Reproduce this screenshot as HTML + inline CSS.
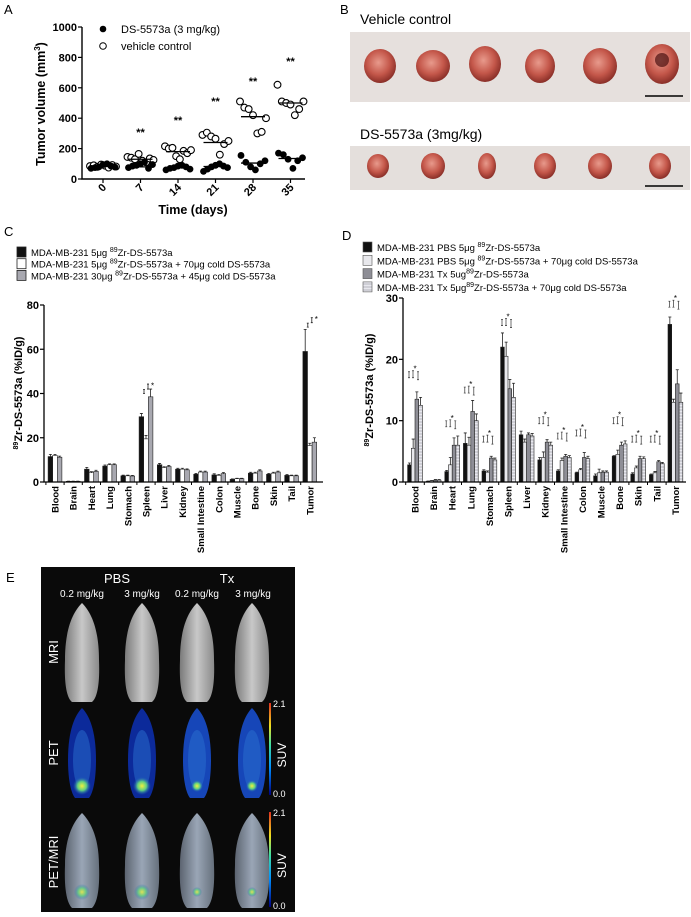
<!DOCTYPE html>
<html><head><meta charset="utf-8"><style>
body{margin:0;background:#fff;}
svg{display:block;font-family:"Liberation Sans",Arial,sans-serif;}
</style></head><body>
<svg id="fig" width="691" height="917" viewBox="0 0 691 917">
<defs>
<radialGradient id="tum" cx="45%" cy="40%" r="60%"><stop offset="0" stop-color="#e89a8c"/><stop offset="0.6" stop-color="#c4574a"/><stop offset="1" stop-color="#8a2f28"/></radialGradient>
<linearGradient id="mouse" x1="0" x2="1"><stop offset="0" stop-color="#7a7a7a"/><stop offset="0.5" stop-color="#c8c8c8"/><stop offset="1" stop-color="#8a8a8a"/></linearGradient>
<linearGradient id="fused" x1="0" x2="1"><stop offset="0" stop-color="#5c6470"/><stop offset="0.5" stop-color="#9aa6b6"/><stop offset="1" stop-color="#66707c"/></linearGradient>
<radialGradient id="hot" cx="50%" cy="50%" r="50%"><stop offset="0" stop-color="#f0f040"/><stop offset="0.5" stop-color="#60d080"/><stop offset="1" stop-color="#2060c0" stop-opacity="0"/></radialGradient>
<linearGradient id="cbar" x1="0" y1="1" x2="0" y2="0"><stop offset="0" stop-color="#000080"/><stop offset="0.3" stop-color="#0090ff"/><stop offset="0.55" stop-color="#40e0a0"/><stop offset="0.75" stop-color="#f0e020"/><stop offset="1" stop-color="#e03020"/></linearGradient>
<pattern id="hatch" width="3" height="3" patternUnits="userSpaceOnUse"><rect width="3" height="3" fill="#cfcfd6"/><rect width="3" height="1" fill="#e8e8ee"/></pattern>
</defs>
<g id="gA"></g>
<g id="gB"></g>
<g id="gC"></g>
<g id="gD"></g>
<g id="gE"></g>
</svg>
<script>
// ---------- Panel A data ----------
const daysA = ["0","7","14","21","28","35"];
const openA = [[85,90,80,95,88,75,92,82],[145,140,130,165,120,110,135,125],[215,200,205,150,130,185,170,190],[290,305,280,265,160,230,250],[510,470,460,420,300,310,400],[620,510,500,490,420,460,510]];
const filledA = [[70,75,80,95,100,85,78],[75,85,90,100,110,70,95],[60,70,75,85,90,80,65],[50,65,80,90,100,85,75],[155,110,80,60,100,120],[170,160,130,70,120,140]];
const openMeanA = [85,130,180,240,410,500];
const filledMeanA = [85,80,75,82,105,135];
const starsA = [null,322,400,526,658,790];
const yTicksA = [0,200,400,600,800,1000];
// ---------- Panel C data ----------
const organs = ["Blood","Brain","Heart","Lung","Stomach","Spleen","Liver","Kidney","Small Intestine","Colon","Muscle","Bone","Skin","Tail","Tumor"];
const c5 = [11.5,0.3,5.8,7.2,2.8,29.5,7.8,5.8,3.5,3.2,1.2,4,3.5,3,59];
const c5cold = [12,0.3,4.2,7.8,2.8,19.5,6.5,5.8,4.5,3,1.5,4,4,2.8,16.5];
const c30 = [11.2,0.3,4.8,7.8,2.7,38.5,7,5.5,4.5,3.8,1.5,5,4.5,2.8,18];
const c5err = [1,0.1,0.8,0.5,0.3,1.5,0.6,0.4,0.4,0.5,0.2,0.4,0.4,0.4,10];
const c5coldErr = [0.5,0.1,0.5,0.4,0.3,1.5,0.4,0.4,0.4,0.4,0.2,0.4,0.4,0.3,1];
const c30err = [0.5,0.1,0.5,0.4,0.3,3.5,0.5,0.4,0.4,0.5,0.2,0.5,0.4,0.3,2];
const yTicksC = [0,20,40,60,80];
// ---------- Panel D data ----------
const dPbs = [2.8,0.1,1.7,6.3,1.8,22,7.7,3.6,1.8,1.5,1,4.2,1.3,1.2,25.7];
const dPbsCold = [5.5,0.2,2.8,6,1.6,20.5,6.5,4,3.5,2,1.5,4.5,2.3,1.5,13];
const dTx = [13.5,0.3,6,11.5,3.9,15.2,7.7,6.5,4.2,4,1.6,6,3.8,3.3,16];
const dTxCold = [12.5,0.3,6,10,3.6,13.8,7.5,6,4,3.8,1.6,6.2,3.8,3,13];
const dPbsErr = [0.3,0.05,0.2,1.7,0.2,2.3,0.6,0.4,0.2,0.1,0.3,0.1,0.2,0.1,1.2];
const dPbsColdErr = [1.5,0.05,1.2,1.3,0.2,2.3,0.5,0.9,0.4,0.2,0.6,0.7,0.3,0.2,0.5];
const dTxErr = [1.2,0.1,1.2,1.8,0.3,1.5,0.3,0.4,0.3,0.8,0.2,0.5,0.4,0.2,2.3];
const dTxColdErr = [1.3,0.1,1.5,1.1,0.3,2.3,0.4,0.5,0.3,0.4,0.2,0.5,0.3,0.2,1.5];
const yTicksD = [0,10,20,30];

const NS="http://www.w3.org/2000/svg";
function mk(parent,tag,attrs,txt){const e=document.createElementNS(NS,tag);for(const k in attrs)e.setAttribute(k,attrs[k]);if(txt!==undefined)e.textContent=txt;parent.appendChild(e);return e;}

// ===== Panel A =====
(function(){
const g=document.getElementById('gA');
const x0=82,y0=179,yTop=27,xEnd=305;
const ys=v=>y0-(v/1000)*(y0-yTop);
const xs=i=>103+i*37.5;
let t=mk(g,'text',{x:4,y:14,'font-size':13},'A');


let ax=mk(g,'path',{d:`M${x0} ${yTop}V${y0}H${xEnd}`,stroke:'#000','stroke-width':1.4,fill:'none'});


yTicksA.forEach(v=>{mk(g,'line',{x1:x0-4,x2:x0,y1:ys(v),y2:ys(v),stroke:'#000','stroke-width':1.2});
 const l=mk(g,'text',{x:x0-5,y:ys(v)+4,'font-size':11,'font-weight':'bold','text-anchor':'end'},v);
 
 });
daysA.forEach((d,i)=>{mk(g,'line',{x1:xs(i),x2:xs(i),y1:y0,y2:y0+4,stroke:'#000','stroke-width':1.2});
 const l=mk(g,'text',{x:xs(i)+4,y:y0+9,'font-size':11,'font-weight':'bold','text-anchor':'end',transform:`rotate(-45 ${xs(i)+4} ${y0+9})`},d);
 
 });
let xt=mk(g,'text',{x:193,y:214,'font-size':12.5,'font-weight':'bold','text-anchor':'middle'},'Time (days)');


let yt=mk(g,'text',{x:0,y:0,'font-size':12.5,'font-weight':'bold','text-anchor':'middle',transform:'translate(45 104) rotate(-90)'});


yt.innerHTML='Tumor volume (mm<tspan dy="-5" font-size="8">3</tspan><tspan dy="5">)</tspan>';
daysA.forEach((d,i)=>{
 const cx=xs(i);
 const n=openA[i].length;
 openA[i].forEach((v,j)=>{const c=mk(g,'circle',{cx:cx-13+26*j/(n-1),cy:ys(v),r:3.4,fill:'#fff',stroke:'#000','stroke-width':1.1});
  
  });
 const m=filledA[i].length;
 filledA[i].forEach((v,j)=>{const c=mk(g,'circle',{cx:cx-12+24*j/(m-1),cy:ys(v),r:3.4,fill:'#000'});
  
  });
 mk(g,'line',{x1:cx-12,x2:cx+12,y1:ys(openMeanA[i]),y2:ys(openMeanA[i]),stroke:'#000','stroke-width':1.3});
 mk(g,'line',{x1:cx-12,x2:cx+12,y1:ys(filledMeanA[i]),y2:ys(filledMeanA[i]),stroke:'#000','stroke-width':1.3});
 if(starsA[i]!==null){const s=mk(g,'text',{x:cx,y:ys(starsA[i])+6,'font-size':11,'font-weight':'bold','text-anchor':'middle'},'**');
  
  }
});
mk(g,'circle',{cx:103,cy:29,r:3.3,fill:'#000'});
mk(g,'circle',{cx:103,cy:46,r:3.3,fill:'#fff',stroke:'#000'});
let l1=mk(g,'text',{x:121,y:33,'font-size':11},'DS-5573a (3 mg/kg)');


let l2=mk(g,'text',{x:121,y:50,'font-size':11},'vehicle control');


})();

// ===== Panel B =====
(function(){
const g=document.getElementById('gB');
let t=mk(g,'text',{x:340,y:14,'font-size':13},'B');


let a=mk(g,'text',{x:360,y:24,'font-size':14},'Vehicle control');


let b=mk(g,'text',{x:360,y:139,'font-size':14},'DS-5573a (3mg/kg)');


const p1=mk(g,'rect',{x:350,y:32,width:340,height:70,fill:'#e6e0dd'});


const p2=mk(g,'rect',{x:350,y:146,width:340,height:44,fill:'#e4dfdc'});


[[380,66,16,17],[433,66,17,16],[485,64,16,18],[540,66,15,17],[600,66,17,18],[662,64,17,20]].forEach(q=>mk(g,'ellipse',{cx:q[0],cy:q[1],rx:q[2],ry:q[3],fill:'url(#tum)'}));
mk(g,'ellipse',{cx:662,cy:60,rx:7,ry:7,fill:'#4a1010',opacity:0.7});
[[378,166,11,12],[433,166,12,13],[487,166,9,13],[545,166,11,13],[600,166,12,13],[660,166,11,13]].forEach(q=>mk(g,'ellipse',{cx:q[0],cy:q[1],rx:q[2],ry:q[3],fill:'url(#tum)'}));
mk(g,'line',{x1:645,x2:683,y1:96,y2:96,stroke:'#000','stroke-width':1.5});
mk(g,'line',{x1:645,x2:683,y1:186,y2:186,stroke:'#000','stroke-width':1.5});
})();

// ===== Bar chart helper =====
function barChart(g,cfg){
 const {x0,y0,yTop,vmax,xEnd,cx0,step,bw,series,errs,fills,ticks,title}=cfg;
 const ys=v=>y0-(v/vmax)*(y0-yTop);
 organs.forEach((o,i)=>{
  const c=cx0+i*step;
  series.forEach((s,k)=>{
   const x=c-(series.length*bw)/2+k*bw;
   const r=mk(g,'rect',{x:x,y:ys(s[i]),width:bw,height:y0-ys(s[i]),fill:fills[k],stroke:'#222','stroke-width':0.6});
   
   
   const ey=ys(s[i]+errs[k][i]);
   mk(g,'path',{d:`M${x+bw/2} ${ys(s[i])}V${ey}M${x+bw/2-1.5} ${ey}H${x+bw/2+1.5}`,stroke:'#222','stroke-width':0.8,fill:'none'});
  });
  mk(g,'line',{x1:c-step/2,x2:c-step/2,y1:y0,y2:y0+3,stroke:'#000'});
  const l=mk(g,'text',{x:c+3.5,y:y0+4,'font-size':9.5,'font-weight':'bold','text-anchor':'end',transform:`rotate(-90 ${c+3.5} ${y0+4})`},o);
  
  
 });
 const ax=mk(g,'path',{d:`M${x0} ${yTop}V${y0}H${xEnd}`,stroke:'#000','stroke-width':1.3,fill:'none'});
 
 
 ticks.forEach(v=>{mk(g,'line',{x1:x0-4,x2:x0,y1:ys(v),y2:ys(v),stroke:'#000','stroke-width':1.2});
  const l=mk(g,'text',{x:x0-5,y:ys(v)+4,'font-size':11,'font-weight':'bold','text-anchor':'end'},v);
  
  });
 const yt=mk(g,'text',{x:0,y:0,'font-size':11,'font-weight':'bold','text-anchor':'middle',transform:`translate(${title.x} ${title.y}) rotate(-90)`});
 
 
 yt.innerHTML='<tspan dy="-4" font-size="7">89</tspan><tspan dy="4">Zr-DS-5573a (%ID/g)</tspan>';
 return ys;
}

// ===== Panel C =====
(function(){
const g=document.getElementById('gC');
let t=mk(g,'text',{x:4,y:236,'font-size':13},'C');


const fills=['#111','#fff','#a8a8b0'];
const leg=['MDA-MB-231 5μg <tspan dy="-4" font-size="7">89</tspan><tspan dy="4">Zr-DS-5573a</tspan>',
'MDA-MB-231 5μg <tspan dy="-4" font-size="7">89</tspan><tspan dy="4">Zr-DS-5573a + 70μg cold DS-5573a</tspan>',
'MDA-MB-231 30μg  <tspan dy="-4" font-size="7">89</tspan><tspan dy="4">Zr-DS-5573a + 45μg cold DS-5573a</tspan>'];
leg.forEach((h,k)=>{const y=252+k*11.7;
 mk(g,'rect',{x:17,y:y-5,width:9,height:10,fill:fills[k],stroke:'#222','stroke-width':0.8});
 const l=mk(g,'text',{x:31,y:y+4,'font-size':9.5});
 
 
 l.innerHTML=h;});
const ys=barChart(g,{x0:44,y0:482,yTop:305,vmax:80,xEnd:323,cx0:55,step:18.2,bw:4.6,series:[c5,c5cold,c30],errs:[c5err,c5coldErr,c30err],fills:fills,ticks:yTicksC,title:{x:22,y:393}});
[[5,40],[14,70]].forEach(([i,v])=>{const c=55+i*18.2;
 mk(g,'path',{d:`M${c-3} ${ys(v)}h2M${c-2} ${ys(v)}v-4M${c-3} ${ys(v)-4}h2M${c+1} ${ys(v+2)}h2M${c+2} ${ys(v+2)}v-5M${c+1} ${ys(v+2)-5}h2`,stroke:'#222','stroke-width':0.8,fill:'none'});
 mk(g,'text',{x:c+5,y:ys(v)-5,'font-size':8},'*');});
})();

// ===== Panel D =====
(function(){
const g=document.getElementById('gD');
let t=mk(g,'text',{x:342,y:240,'font-size':13},'D');


const fills=['#111','#e8e8ec','#8e8e96','url(#hatch)'];
const leg=['MDA-MB-231 PBS 5μg <tspan dy="-4" font-size="7">89</tspan><tspan dy="4">Zr-DS-5573a</tspan>',
'MDA-MB-231 PBS 5μg <tspan dy="-4" font-size="7">89</tspan><tspan dy="4">Zr-DS-5573a + 70μg cold DS-5573a</tspan>',
'MDA-MB-231 Tx 5ug<tspan dy="-4" font-size="7">89</tspan><tspan dy="4">Zr-DS-5573a</tspan>',
'MDA-MB-231 Tx 5μg<tspan dy="-4" font-size="7">89</tspan><tspan dy="4">Zr-DS-5573a + 70μg cold DS-5573a</tspan>'];
leg.forEach((h,k)=>{const y=247+k*13.3;
 mk(g,'rect',{x:363,y:y-5,width:9,height:10,fill:fills[k],stroke:'#555','stroke-width':0.6});
 const l=mk(g,'text',{x:377,y:y+4,'font-size':9.5});
 
 
 l.innerHTML=h;});
const ys=barChart(g,{x0:403,y0:482,yTop:298,vmax:30,xEnd:686,cx0:415,step:18.6,bw:3.7,series:[dPbs,dPbsCold,dTx,dTxCold],errs:[dPbsErr,dPbsColdErr,dTxErr,dTxColdErr],fills:fills,ticks:yTicksD,title:{x:373,y:390}});
const brk=[[0,17],[2,9],[3,14.5],[4,6.5],[5,25.5],[7,9.5],[8,7],[9,7.5],[11,9.5],[12,6.5],[13,6.5],[14,28.5]];
brk.forEach(([i,v])=>{const c=415+i*18.6;
 mk(g,'path',{d:`M${c-6} ${ys(v)}v-6M${c-7} ${ys(v)}h2M${c-7} ${ys(v)-6}h2M${c-2} ${ys(v)}v-7M${c-3} ${ys(v)}h2M${c-3} ${ys(v)-7}h2M${c+3} ${ys(v)+2}v-8M${c+2} ${ys(v)+2}h2M${c+2} ${ys(v)-6}h2`,stroke:'#333','stroke-width':0.7,fill:'none'});
 mk(g,'text',{x:c,y:ys(v)-6,'font-size':8,'text-anchor':'middle'},'*');});
})();

// ===== Panel E =====
(function(){
const g=document.getElementById('gE');
let t=mk(g,'text',{x:6,y:582,'font-size':13},'E');


const bg=mk(g,'rect',{x:41,y:567,width:254,height:345,fill:'#0a0a0a'});


const tt=[['PBS',117,583,13],['Tx',227,583,13],['0.2 mg/kg',82,597,10],['3 mg/kg',142,597,10],['0.2 mg/kg',197,597,10],['3 mg/kg',253,597,10]];
tt.forEach(a=>{const l=mk(g,'text',{x:a[1],y:a[2],'font-size':a[3],fill:'#fff','text-anchor':'middle'},a[0]);
 
 });
[['MRI',652],['PET',753],['PET/MRI',862]].forEach(a=>{const l=mk(g,'text',{x:0,y:0,'font-size':13,fill:'#fff','text-anchor':'middle',transform:`translate(58 ${a[1]}) rotate(-90)`},a[0]);
 
 });
const cols=[82,142,197,252];
cols.forEach((cx,i)=>{
 const m=mk(g,'path',{d:`M${cx} 603 C${cx+7} 610 ${cx+17} 625 ${cx+17} 660 C${cx+18} 685 ${cx+15} 698 ${cx+10} 702 L${cx-10} 702 C${cx-15} 698 ${cx-18} 685 ${cx-17} 660 C${cx-17} 625 ${cx-7} 610 ${cx} 603Z`,fill:'url(#mouse)'});
 
 
 const p=mk(g,'path',{d:`M${cx} 708 C${cx+7} 715 ${cx+14} 730 ${cx+14} 760 C${cx+14} 780 ${cx+11} 793 ${cx+7} 798 L${cx-7} 798 C${cx-11} 793 ${cx-14} 780 ${cx-14} 760 C${cx-14} 730 ${cx-7} 715 ${cx} 708Z`,fill:i<2?'#0c2a9a':'#1646b8'});
 
 
 mk(g,'ellipse',{cx:cx,cy:760,rx:9,ry:30,fill:'#2a70d0',opacity:0.5});
 mk(g,'ellipse',{cx:cx,cy:786,rx:i<2?9:6,ry:i<2?9:6,fill:'url(#hot)'});
 const f=mk(g,'path',{d:`M${cx} 813 C${cx+7} 820 ${cx+17} 835 ${cx+17} 865 C${cx+18} 890 ${cx+15} 903 ${cx+10} 908 L${cx-10} 908 C${cx-15} 903 ${cx-18} 890 ${cx-17} 865 C${cx-17} 835 ${cx-7} 820 ${cx} 813Z`,fill:'url(#fused)'});
 
 
 mk(g,'ellipse',{cx:cx,cy:892,rx:i<2?8:5,ry:i<2?8:5,fill:'url(#hot)',opacity:0.8});
});
[[703,795],[812,907]].forEach(([a,b])=>{
 const c=mk(g,'rect',{x:269,y:a,width:2,height:b-a,fill:'url(#cbar)'});
 
 
 mk(g,'text',{x:273,y:a+4,'font-size':9,fill:'#fff'},'2.1');
 mk(g,'text',{x:273,y:b+2,'font-size':9,fill:'#fff'},'0.0');
 const s=mk(g,'text',{x:0,y:0,'font-size':12,fill:'#fff','text-anchor':'middle',transform:`translate(286 ${(a+b)/2+6}) rotate(-90)`},'SUV');
 
 
});
})();
</script>
</body></html>
